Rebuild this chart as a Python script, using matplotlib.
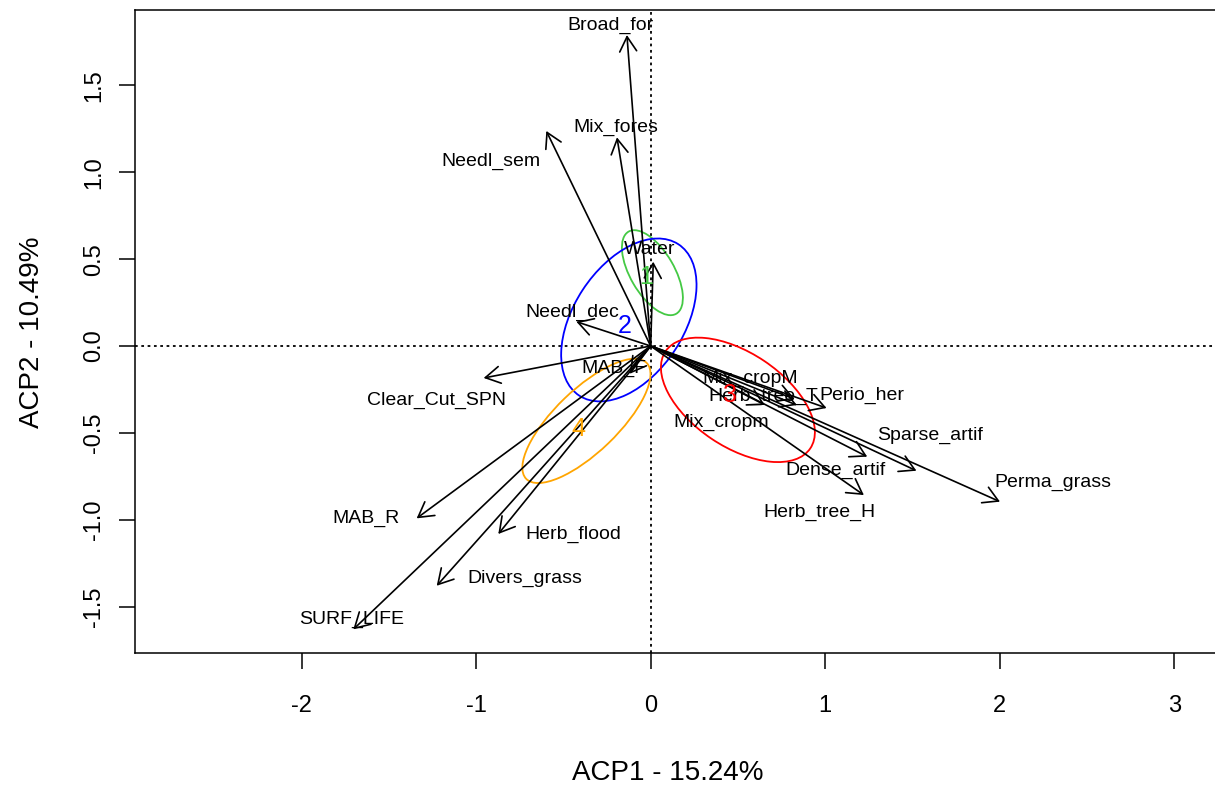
import matplotlib
matplotlib.use("Agg")
from matplotlib import pyplot as plt
from matplotlib.patches import Ellipse

plt.rcParams['font.family'] = ['Liberation Sans', 'DejaVu Sans']
plt.rcParams['axes.unicode_minus'] = False

# variable loadings (arrow tips) on ACP1 / ACP2
var_names = ["Broad_for", "Mix_fores", "Needl_sem", "Water", "Needl_dec",
             "Clear_Cut_SPN", "MAB_F", "MAB_R", "Herb_flood", "Divers_grass",
             "SURF_LIFE", "Mix_cropM", "Herb_tree_T", "Mix_cropm", "Perio_her",
             "Sparse_artif", "Dense_artif", "Perma_grass", "Herb_tree_H"]
var_x = [-0.136, -0.193, -0.598, 0.015, -0.426,
         -0.957, -0.12, -1.341, -0.873, -1.226,
         -1.704, 0.826, 0.838, 0.654, 1.008,
         1.523, 1.241, 2.002, 1.222]
var_y = [1.79, 1.201, 1.238, 0.485, 0.14,
         -0.184, -0.16, -0.992, -1.082, -1.38,
         -1.631, -0.305, -0.34, -0.339, -0.357,
         -0.718, -0.637, -0.896, -0.858]

# where each variable name was written
label_x = [-0.229, -0.199, -0.914, -0.007, -0.451,
           -1.23, -0.21, -1.63, -0.444, -0.719,
           -1.713, 0.57, 0.648, 0.402, 1.21,
           1.602, 1.057, 2.305, 0.97]
label_y = [1.847, 1.261, 1.065, 0.553, 0.196,
           -0.311, -0.127, -0.99, -1.082, -1.336,
           -1.572, -0.184, -0.288, -0.437, -0.282,
           -0.512, -0.714, -0.783, -0.956]

# group ellipses
groups = ["1", "2", "3", "4"]
group_colors = ["#44C944", "#0000FF", "#FF0000", "#FFA500"]
ell_cx = [0.01, -0.125, 0.5, -0.368]
ell_cy = [0.422, 0.15, -0.31, -0.431]
ell_a = [0.273, 0.52, 0.5, 0.48]
ell_b = [0.126, 0.316, 0.27, 0.18]
ell_angle = [-60, 57, -34, 44]
group_lab_x = [-0.025, -0.15, 0.454, -0.417]
group_lab_y = [0.398, 0.115, -0.282, -0.475]

fig = plt.figure(figsize=(12.15, 7.87), dpi=100)
ax = fig.add_axes([135 / 1215, 134 / 787, 1095 / 1215, 643 / 787])
ax.set_xlim(-2.955, 3.32)
ax.set_ylim(-1.767, 1.934)

ax.axhline(0, color="black", lw=1.3, linestyle=(0, (1.5, 2)), zorder=1)
ax.axvline(0, color="black", lw=1.3, linestyle=(0, (1.5, 2)), zorder=1)

for i in range(len(groups)):
    e = Ellipse((ell_cx[i], ell_cy[i]), 2 * ell_a[i], 2 * ell_b[i], angle=ell_angle[i],
                fill=False, edgecolor=group_colors[i], lw=1.3, zorder=2)
    ax.add_patch(e)

for i in range(len(var_names)):
    ax.annotate("", xy=(var_x[i], var_y[i]), xytext=(0, 0),
                arrowprops=dict(arrowstyle="->,head_length=1.06,head_width=0.61",
                                mutation_scale=10, lw=1.2, color="black",
                                shrinkA=0, shrinkB=0), zorder=3)
    ax.text(label_x[i], label_y[i], var_names[i], fontsize=14,
            ha="center", va="center", zorder=4)

for i in range(len(groups)):
    ax.text(group_lab_x[i], group_lab_y[i], groups[i], color=group_colors[i],
            fontsize=18, ha="center", va="center", zorder=4)

ax.set_xticks([-2, -1, 0, 1, 2, 3])
ax.set_xticklabels(["-2", "-1", "0", "1", "2", "3"])
ax.set_yticks([-1.5, -1.0, -0.5, 0.0, 0.5, 1.0, 1.5])
ax.set_yticklabels(["-1.5", "-1.0", "-0.5", "0.0", "0.5", "1.0", "1.5"], rotation=90, va="center")
ax.tick_params(axis="both", direction="out", length=11.5, width=1.1, labelsize=17)
ax.tick_params(axis="x", pad=19)
ax.tick_params(axis="y", pad=10)
for s in ax.spines.values():
    s.set_linewidth(1.1)

fig.text(668 / 1215, 1 - 773 / 787, "ACP1 - 15.24%", fontsize=20, ha="center", va="center")
fig.text(32 / 1215, 1 - 332 / 787, "ACP2 - 10.49%", fontsize=20, ha="center", va="center",
         rotation=90)

fig.savefig("out.png", dpi=100)
